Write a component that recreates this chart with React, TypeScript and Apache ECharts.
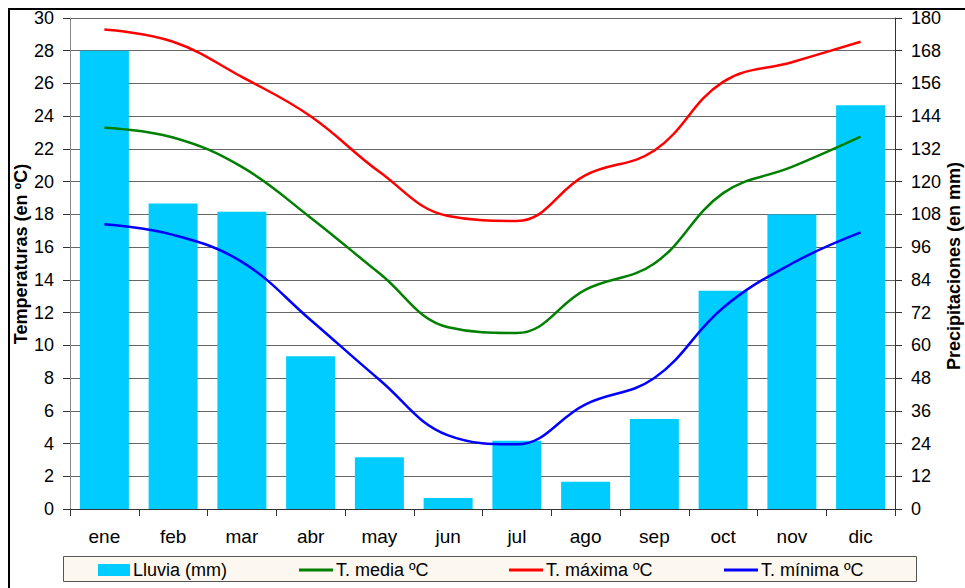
import React, { useEffect, useRef } from "react";
import * as echarts from "echarts";

const months = ["ene", "feb", "mar", "abr", "may", "jun", "jul", "ago", "sep", "oct", "nov", "dic"];
const lluvia = [168, 112, 109, 56, 19, 4, 25, 10, 33, 80, 108, 148];
const tMedia = [23.3, 22.7, 20.9, 17.8, 14.4, 11.1, 10.75, 13.4, 15.0, 19.3, 20.9, 22.75];
const tMaxima = [29.3, 28.55, 26.4, 24.0, 20.6, 17.9, 17.6, 20.4, 21.9, 26.1, 27.3, 28.55];
const tMinima = [17.4, 16.75, 15.1, 11.55, 7.9, 4.5, 3.95, 6.4, 8.0, 12.3, 15.0, 16.9];

const legendNames = ["Lluvia (mm)", "T. media ºC", "T. máxima ºC", "T. mínima ºC"];
const legendLeft = [98, 299, 509, 724];
const leftAxisName = "Temperaturas (en ºC)";
const rightAxisName = "Precipitaciones (en mm)";

const FONT = "'Liberation Sans', Arial, sans-serif";
const LINE_ICON = "path://M0,0 H34 V3 H0 Z";

export default function App() {
  const ref = useRef<HTMLDivElement>(null);
  useEffect(() => {
    document.body.style.margin = "0";
    const chart = echarts.init(ref.current!, null, { renderer: "svg" });
    const legends = legendNames.map((name, i) => ({
      left: legendLeft[i],
      top: 561,
      itemGap: 0,
      itemWidth: i === 0 ? 32 : 34,
      itemHeight: i === 0 ? 12 : 3,
      padding: 0,
      selectedMode: false,
      textStyle: { fontFamily: FONT, fontSize: 18, color: "#000", padding: [0, 0, 0, -2] },
      data: [{ name, icon: i === 0 ? "rect" : LINE_ICON }],
      z: 10,
    }));
    const nameStyle = {
      font: `bold 18px ${FONT}`,
      fill: "#000",
      textAlign: "center",
      textVerticalAlign: "middle",
    };
    chart.setOption({
      animation: false,
      backgroundColor: "#ffffff",
      textStyle: { fontFamily: FONT },
      grid: { left: 70, right: 70, top: 18, bottom: 79, outerBoundsMode: "none", containLabel: false },
      graphic: [
        {
          type: "rect",
          shape: { x: 9, y: 9, width: 1000, height: 1000 },
          style: { fill: "none", stroke: "#000", lineWidth: 2 },
          z: 100,
        },
        {
          type: "rect",
          shape: { x: 63.5, y: 556.5, width: 853, height: 25 },
          style: { fill: "#fcf8f0", stroke: "#555", lineWidth: 1 },
          z: 0,
        },
        {
          type: "text",
          x: 21,
          y: 254,
          rotation: Math.PI / 2,
          style: { ...nameStyle, text: leftAxisName },
          z: 50,
        },
        {
          type: "text",
          x: 954,
          y: 266,
          rotation: Math.PI / 2,
          style: { ...nameStyle, text: rightAxisName },
          z: 50,
        },
      ],
      legend: legends,
      xAxis: {
        type: "category",
        data: months,
        boundaryGap: true,
        axisLine: { lineStyle: { color: "#333", width: 1 } },
        axisTick: { show: true, alignWithLabel: false, length: 7, lineStyle: { color: "#333" } },
        axisLabel: { color: "#000", fontSize: 19, margin: 18, fontFamily: FONT },
      },
      yAxis: [
        {
          type: "value",
          min: 0,
          max: 30,
          interval: 2,
          axisLine: { show: true, lineStyle: { color: "#888", width: 1 } },
          axisTick: { show: true, length: 7, lineStyle: { color: "#333" } },
          axisLabel: { color: "#000", fontSize: 18, margin: 16, fontFamily: FONT },
          splitLine: { show: true, lineStyle: { color: "#666", width: 1 } },
        },
        {
          type: "value",
          min: 0,
          max: 180,
          interval: 12,
          axisLine: { show: true, lineStyle: { color: "#333", width: 1 } },
          axisTick: { show: true, length: 7, lineStyle: { color: "#333" } },
          axisLabel: { color: "#000", fontSize: 18, margin: 16, fontFamily: FONT },
          splitLine: { show: false },
        },
      ],
      series: [
        {
          name: "Lluvia (mm)",
          type: "bar",
          yAxisIndex: 1,
          data: lluvia,
          barWidth: 49,
          itemStyle: { color: "#00ccff" },
          z: 2,
        },
        {
          name: "T. media ºC",
          type: "line",
          yAxisIndex: 0,
          data: tMedia,
          smooth: 0.4,
          symbol: "none",
          showSymbol: false,
          lineStyle: { color: "#008000", width: 2.5 },
          itemStyle: { color: "#008000" },
          z: 3,
        },
        {
          name: "T. máxima ºC",
          type: "line",
          yAxisIndex: 0,
          data: tMaxima,
          smooth: 0.4,
          symbol: "none",
          showSymbol: false,
          lineStyle: { color: "#ff0000", width: 2.5 },
          itemStyle: { color: "#ff0000" },
          z: 3,
        },
        {
          name: "T. mínima ºC",
          type: "line",
          yAxisIndex: 0,
          data: tMinima,
          smooth: 0.4,
          symbol: "none",
          showSymbol: false,
          lineStyle: { color: "#0000ff", width: 2.5 },
          itemStyle: { color: "#0000ff" },
          z: 3,
        },
      ],
    });
    return () => chart.dispose();
  }, []);
  return <div ref={ref} style={{ width: 965, height: 588 }} />;
}
